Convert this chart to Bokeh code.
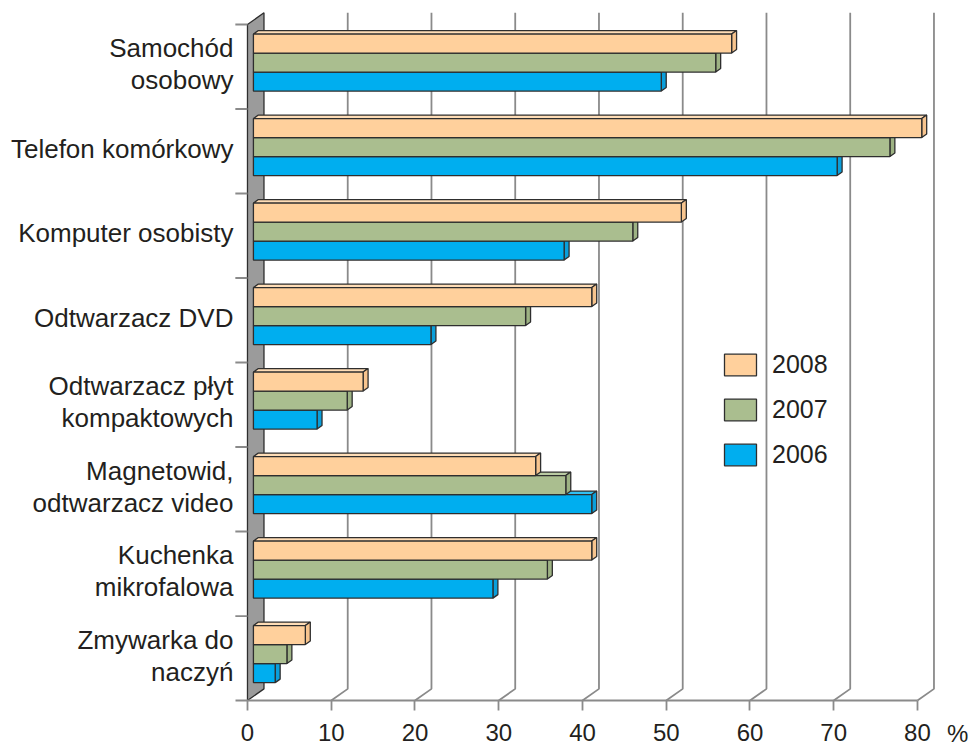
from bokeh.plotting import figure
from bokeh.models import Range1d, LinearAxis, FixedTicker, Legend, LegendItem
from bokeh.core.properties import value
from bokeh.embed import file_html
from bokeh.resources import INLINE

# ---------------- data ----------------
categories = [
    ["Samochód", "osobowy"],
    ["Telefon komórkowy"],
    ["Komputer osobisty"],
    ["Odtwarzacz DVD"],
    ["Odtwarzacz płyt", "kompaktowych"],
    ["Magnetowid,", "odtwarzacz video"],
    ["Kuchenka", "mikrofalowa"],
    ["Zmywarka do", "naczyń"],
]
years = ["2008", "2007", "2006"]
v2008 = [57.1, 79.8, 51.1, 40.4, 13.1, 33.7, 40.4, 6.2]
v2007 = [55.2, 76.0, 45.3, 32.5, 11.2, 37.3, 35.1, 4.0]
v2006 = [48.7, 69.7, 37.1, 21.2, 7.6, 40.4, 28.6, 2.6]
x_ticks = [0, 10, 20, 30, 40, 50, 60, 70, 80]
unit_label = "%"

# ---------------- style / layout constants ----------------
FONT = "Liberation Sans"
TXT = "#231f20"
GRID = "#8a8a8a"
EDGE = "#2e2e2e"
front_col = {"2008": "#FFD09C", "2007": "#AABE8F", "2006": "#00AEEF"}
top_col = {"2008": "#FFDDB6", "2007": "#BACBA3", "2006": "#33C0F2"}
side_col = {"2008": "#F7C48E", "2007": "#9DB283", "2006": "#0A9FDB"}

n = len(categories)
WALL_DX, WALL_DY = 1.97, 0.138        # depth of the 3D box (data units)
F0, F1 = 0.36, 0.66                   # bars occupy this depth slice
BAR_H = 0.225                         # bar thickness (category units)

W, H = 973, 746
x_start, x_end = -29.49, 86.69
y_start, y_end = -0.544, 8.284

p = figure(width=W, height=H,
           x_range=Range1d(x_start, x_end), y_range=Range1d(y_start, y_end),
           x_axis_location=None, y_axis_location=None,
           output_backend="svg", toolbar_location=None,
           min_border_left=0, min_border_right=0, min_border_top=0, min_border_bottom=0,
           outline_line_color=None, background_fill_color="white")
p.grid.visible = False

# ---------- back wall (left) ----------
p.patch([0, 0, WALL_DX, WALL_DX], [0, n, n + WALL_DY, WALL_DY],
        fill_color="#9b9b9b", line_color=EDGE, line_width=1.3)

# ---------- back grid lines with oblique feet ----------
gx, gy = [], []
for t in x_ticks[1:]:
    gx.append([t, t + WALL_DX, t + WALL_DX])
    gy.append([0, WALL_DY, n + WALL_DY])
p.multi_line(gx, gy, line_color=GRID, line_width=1.8)

# ---------- category tick marks on the left ----------
p.segment(x0=[-1.45] * n, y0=list(range(1, n + 1)), x1=[0] * n, y1=list(range(1, n + 1)),
          line_color=GRID, line_width=1.8)

# ---------- 3D bars ----------
ox, oy = F0 * WALL_DX, F0 * WALL_DY
bdx, bdy = (F1 - F0) * WALL_DX, (F1 - F0) * WALL_DY
series = {"2008": v2008, "2007": v2007, "2006": v2006}
slot = {"2008": 1, "2007": 0, "2006": -1}
front_renderers = {}
for yr in ["2006", "2007", "2008"]:
    vals = series[yr]
    lefts, rights, bots, tops = [], [], [], []
    txs, tys, sxs, sys_ = [], [], [], []
    for i, v in enumerate(vals):
        c = (n - 1 - i) + 0.5
        mid = c + slot[yr] * BAR_H
        b = mid - BAR_H / 2 + oy
        t = mid + BAR_H / 2 + oy
        l = ox
        r = v + ox
        lefts.append(l); rights.append(r); bots.append(b); tops.append(t)
        txs.append([l, r, r + bdx, l + bdx]); tys.append([t, t, t + bdy, t + bdy])
        sxs.append([r, r, r + bdx, r + bdx]); sys_.append([b, t, t + bdy, b + bdy])
    p.patches(txs, tys, fill_color=top_col[yr], line_color=EDGE, line_width=1.3)
    p.patches(sxs, sys_, fill_color=side_col[yr], line_color=EDGE, line_width=1.3)
    front_renderers[yr] = p.quad(left=lefts, right=rights, bottom=bots, top=tops,
                                 fill_color=front_col[yr], line_color=EDGE, line_width=1.3)

# ---------- category labels ----------
lx, ly, lt = [], [], []
for i, lines in enumerate(categories):
    c = (n - 1 - i) + 0.5 + 0.03
    if len(lines) == 1:
        lx.append(-1.67); ly.append(c); lt.append(lines[0])
    else:
        lx += [-1.67, -1.67]; ly += [c + 0.19, c - 0.19]; lt += lines
p.text(x=lx, y=ly, text=lt, text_align="right", text_baseline="middle",
       text_font=value(FONT), text_font_size="26px", text_color=TXT)

# ---------- unit label after the last tick ----------
p.text(x=[84.8], y=[-0.39], text=[unit_label], text_align="center", text_baseline="middle",
       text_font=value(FONT), text_font_size="24px", text_color=TXT)

# ---------- x axis (front edge of the box) ----------
ax = LinearAxis(ticker=FixedTicker(ticks=x_ticks), bounds=(-1.45, 80), fixed_location=0)
ax.axis_line_color = GRID
ax.axis_line_width = 1.8
ax.major_tick_line_color = GRID
ax.major_tick_line_width = 1.8
ax.major_tick_out = 10
ax.major_tick_in = 0
ax.minor_tick_line_color = None
ax.major_label_standoff = 13
ax.major_label_text_font = FONT
ax.major_label_text_font_size = "24px"
ax.major_label_text_color = TXT
p.add_layout(ax, "below")

# ---------- legend ----------
legend = Legend(items=[LegendItem(label=yr, renderers=[front_renderers[yr]]) for yr in years],
                location=(720, 277), orientation="vertical",
                glyph_width=40, glyph_height=27, label_standoff=12, spacing=16,
                padding=0, margin=0, border_line_color=None, background_fill_alpha=0,
                label_text_font=FONT, label_text_font_size="25px", label_text_color=TXT)
p.add_layout(legend, "center")

open("out.html", "w").write(file_html(p, INLINE))
